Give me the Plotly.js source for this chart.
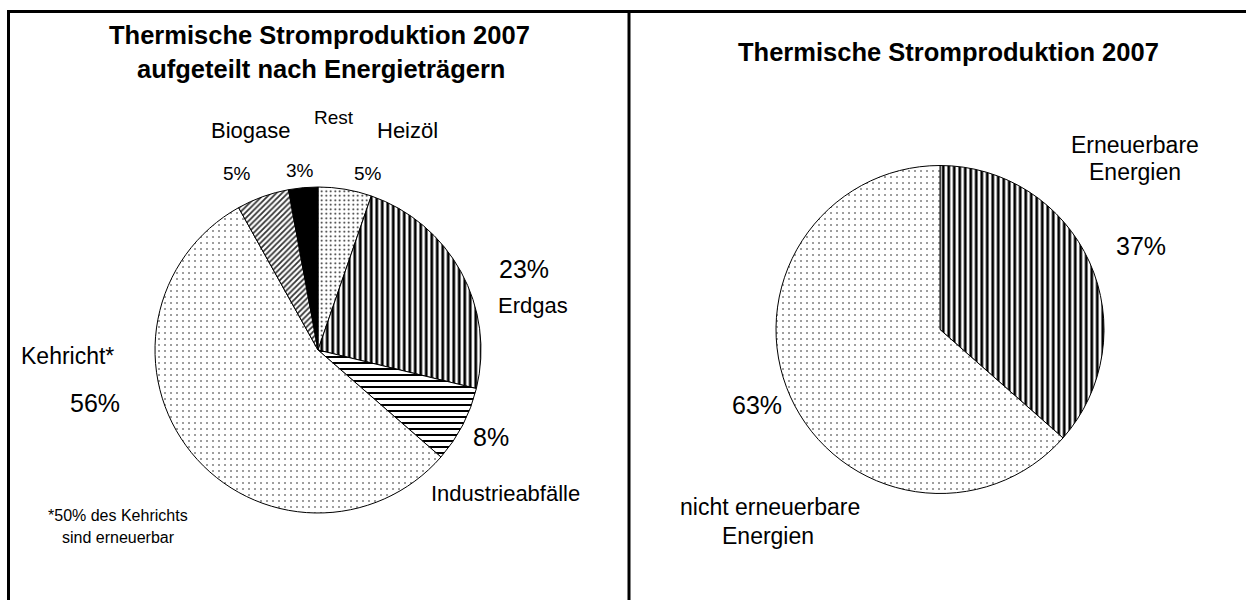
<!DOCTYPE html>
<html>
<head>
<meta charset="utf-8">
<script src="https://cdn.plot.ly/plotly-3.0.1.min.js"></script>
<style>html,body{margin:0;padding:0;background:#fff;}#chart{width:1246px;height:600px;}</style>
</head>
<body>
<div id="chart"></div>
<script>
// ---- data ----
const leftCategories = ['Heizöl', 'Erdgas', 'Industrieabfälle', 'Kehricht*', 'Biogase', 'Rest'];
const leftValues = [5.3, 23.5, 7.6, 55.5, 5.2, 2.9];
const leftPercentLabels = ['5%', '23%', '8%', '56%', '5%', '3%'];
const rightCategories = ['Erneuerbare Energien', 'nicht erneuerbare Energien'];
const rightValues = [36.5, 63.5];
const rightPercentLabels = ['37%', '63%'];
const leftTitle = ['Thermische Stromproduktion 2007', 'aufgeteilt nach Energieträgern'];
const rightTitle = 'Thermische Stromproduktion 2007';
const footnote = ['*50% des Kehrichts', 'sind erneuerbar'];

// ---- styling ----
const W = 1246, H = 600;
const FONT = '"Liberation Sans", Arial, Helvetica, sans-serif';
const px = x => x / W;
const py = y => 1 - y / H;

const leftTrace = {
  type: 'pie',
  labels: leftCategories,
  values: leftValues,
  sort: false,
  direction: 'clockwise',
  rotation: 0,
  textinfo: 'none',
  hoverinfo: 'skip',
  showlegend: false,
  domain: {x: [px(155), px(481)], y: [py(513), py(187)]},
  marker: {
    colors: ['#ffffff', '#ffffff', '#ffffff', '#ffffff', '#ffffff', '#000000'],
    line: {color: '#000000', width: 1},
    pattern: {
      shape: ['.', '|', '-', '.', '/', ''],
      size: [4.5, 5.5, 6, 6, 4, 6],
      solidity: [0.13, 0.5, 0.33, 0.06, 0.45, 0.3],
      fgcolor: ['#111111', '#000000', '#000000', '#222222', '#333333', '#000000'],
      bgcolor: ['#ffffff', '#ffffff', '#ffffff', '#ffffff', '#ffffff', '#000000'],
      fillmode: 'replace'
    }
  }
};

const rightTrace = {
  type: 'pie',
  labels: rightCategories,
  values: rightValues,
  sort: false,
  direction: 'clockwise',
  rotation: 0,
  textinfo: 'none',
  hoverinfo: 'skip',
  showlegend: false,
  domain: {x: [px(776), px(1104)], y: [py(494), py(165)]},
  marker: {
    colors: ['#ffffff', '#ffffff'],
    line: {color: '#000000', width: 1},
    pattern: {
      shape: ['|', '.'],
      size: [5.5, 6],
      solidity: [0.5, 0.06],
      fgcolor: ['#000000', '#222222'],
      bgcolor: ['#ffffff', '#ffffff'],
      fillmode: 'replace'
    }
  }
};

function ann(text, x, y, size, bold) {
  return {
    text: bold ? '<b>' + text + '</b>' : text,
    x: px(x), y: py(y), xref: 'paper', yref: 'paper',
    xanchor: 'center', yanchor: 'middle', showarrow: false,
    font: {family: FONT, size: size, color: '#000000'}
  };
}

const annotations = [
  ann(leftTitle[0], 320, 35, 25.5, true),
  ann(leftTitle[1], 321, 69, 25.5, true),
  ann(rightTitle, 948, 52, 25.5, true),
  // left pie labels
  ann(leftCategories[4], 251, 131, 22),
  ann(leftCategories[5], 334, 117, 19),
  ann(leftCategories[0], 407, 131, 22),
  ann(leftPercentLabels[4], 237, 173, 19),
  ann(leftPercentLabels[5], 300, 171, 19),
  ann(leftPercentLabels[0], 368, 173, 19),
  ann(leftPercentLabels[1], 524, 269, 25),
  ann(leftCategories[1], 533, 305, 22),
  ann(leftPercentLabels[2], 491, 437, 25),
  ann(leftCategories[2], 505, 493, 22),
  ann(leftCategories[3], 67, 356, 23),
  ann(leftPercentLabels[3], 95, 403, 25),
  ann(footnote[0], 118, 515, 16),
  ann(footnote[1], 118, 537, 16),
  // right pie labels
  ann('Erneuerbare', 1135, 145, 23),
  ann('Energien', 1135, 172, 23),
  ann(rightPercentLabels[0], 1141, 246, 25),
  ann(rightPercentLabels[1], 757, 405, 25),
  ann('nicht erneuerbare', 770, 507, 23),
  ann('Energien', 768, 536, 23)
];

const border = {type: 'line', xref: 'paper', yref: 'paper', line: {color: '#000000', width: 3}};
const shapes = [
  Object.assign({}, border, {x0: px(7), x1: 1, y0: py(11.5), y1: py(11.5)}),
  Object.assign({}, border, {x0: px(8.5), x1: px(8.5), y0: py(10), y1: 0}),
  Object.assign({}, border, {x0: px(629), x1: px(629), y0: py(10), y1: 0})
];

const layout = {
  width: W, height: H,
  margin: {l: 0, r: 0, t: 0, b: 0},
  paper_bgcolor: '#ffffff',
  plot_bgcolor: '#ffffff',
  font: {family: FONT, color: '#000000'},
  annotations: annotations,
  shapes: shapes,
  showlegend: false
};

Plotly.newPlot('chart', [leftTrace, rightTrace], layout, {displayModeBar: false, staticPlot: true});
</script>
</body>
</html>
